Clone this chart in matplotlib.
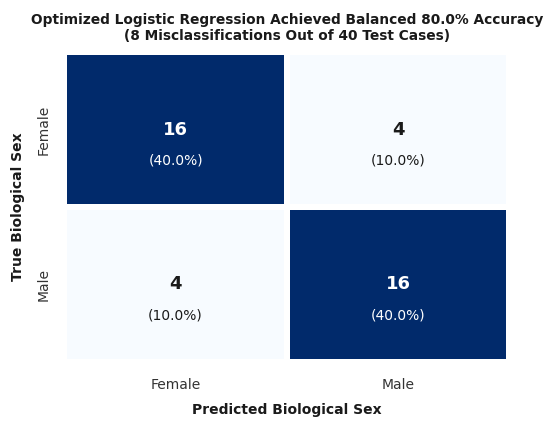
import matplotlib
matplotlib.use("Agg")
import matplotlib.pyplot as plt
from matplotlib.colors import LinearSegmentedColormap
import seaborn as sns
import numpy as np

sns.set_style("white")
plt.rcParams['font.family'] = ['DejaVu Sans']

# data
labels = ['Female', 'Male']
counts = np.array([[16, 4],
                   [4, 16]])
total = counts.sum()

# blues, a bit deeper at the dark end
cmap = LinearSegmentedColormap.from_list('deep_blues', ['#f7fbff', '#5a9bd0', '#012a6b'])

fig, ax = plt.subplots(figsize=(5.5, 4.23), dpi=100)
sns.heatmap(counts, cmap=cmap, cbar=False, linewidths=3, linecolor='white',
            xticklabels=labels, yticklabels=labels, ax=ax, annot=False)

for i in range(counts.shape[0]):
    for j in range(counts.shape[1]):
        v = counts[i, j]
        c = 'white' if v > counts.max() / 2 else '#1a1a1a'
        ax.text(j + 0.5, i + 0.5, str(v), ha='center', va='center',
                fontsize=13, fontweight='bold', color=c)
        ax.text(j + 0.5, i + 0.7, '(%.1f%%)' % (100.0 * v / total), ha='center', va='center',
                fontsize=10, color=c)

ax.set_title('Optimized Logistic Regression Achieved Balanced 80.0% Accuracy\n(8 Misclassifications Out of 40 Test Cases)',
             fontsize=9.9, fontweight='bold', color='#1a1a1a', pad=9)
ax.set_xlabel('Predicted Biological Sex', fontsize=10, fontweight='bold', color='#1a1a1a', labelpad=8)
ax.set_ylabel('True Biological Sex', fontsize=10, fontweight='bold', color='#1a1a1a', labelpad=8)
ax.tick_params(axis='x', length=0, labelsize=10, labelcolor='#333333', pad=12)
ax.tick_params(axis='y', length=0, labelsize=10, labelcolor='#333333', pad=10)
plt.setp(ax.get_yticklabels(), rotation=90, va='center')

plt.subplots_adjust(left=0.117, right=0.926, top=0.876, bottom=0.145)
fig.savefig('out.png', dpi=100)
